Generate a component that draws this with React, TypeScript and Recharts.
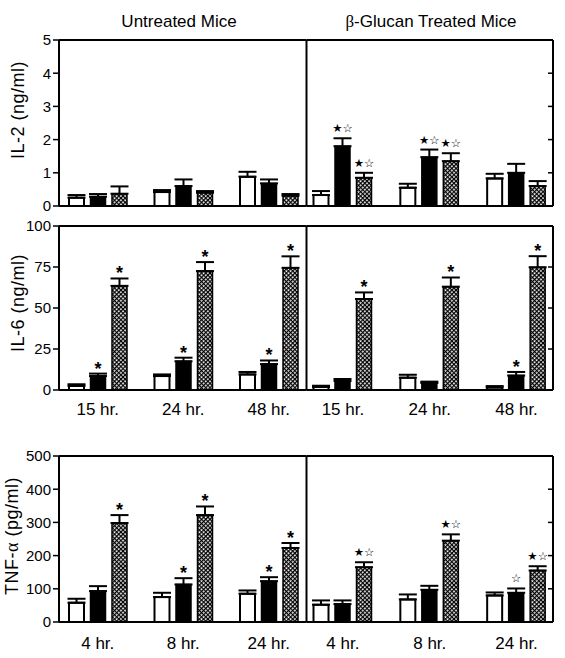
import React from 'react';
import { BarChart, Bar, XAxis, YAxis, ErrorBar, LabelList, ReferenceLine } from 'recharts';

const FONT = "'Liberation Sans', Arial, Helvetica, sans-serif";

const IL_TIMES = ['15 hr.', '24 hr.', '48 hr.'];
const TNF_TIMES = ['4 hr.', '8 hr.', '24 hr.'];

// each inner array: [open bar, solid bar, cross-hatched bar]
const IL2_U_MEAN = [[0.25, 0.28, 0.37], [0.42, 0.6, 0.4], [0.88, 0.68, 0.31]];
const IL2_U_ERR = [[0.08, 0.08, 0.22], [0.06, 0.2, 0.05], [0.15, 0.12, 0.05]];
const IL2_U_MARK = [['', '', ''], ['', '', ''], ['', '', '']];
const IL2_T_MEAN = [[0.33, 1.8, 0.85], [0.55, 1.47, 1.35], [0.83, 1.0, 0.6]];
const IL2_T_ERR = [[0.12, 0.24, 0.15], [0.12, 0.23, 0.24], [0.14, 0.27, 0.15]];
const IL2_T_MARK = [['', '★☆', '★☆'], ['', '★☆', '★☆'], ['', '', '']];

const IL6_U_MEAN = [[2.5, 8.5, 63.5], [8.5, 17.5, 72.5], [9.5, 15.8, 74.5]];
const IL6_U_ERR = [[1, 1.5, 4.5], [1, 2.2, 5.5], [1.5, 2.2, 7]];
const IL6_U_MARK = [['', '*', '*'], ['', '*', '*'], ['', '*', '*']];
const IL6_T_MEAN = [[1.8, 5.5, 55.5], [7.5, 4.3, 63], [1.5, 8.8, 74.8]];
const IL6_T_ERR = [[0.8, 1.2, 4], [1.8, 0.8, 5.6], [0.9, 2.2, 6.8]];
const IL6_T_MARK = [['', '', '*'], ['', '', '*'], ['', '*', '*']];

const TNF_U_MEAN = [[58, 93, 298], [75, 113, 322], [85, 123, 223]];
const TNF_U_ERR = [[12, 15, 24], [13, 19, 26], [10, 12, 15]];
const TNF_U_MARK = [['', '', '*'], ['', '*', '*'], ['', '*', '*']];
const TNF_T_MEAN = [[52, 54, 165], [68, 97, 245], [80, 88, 155]];
const TNF_T_ERR = [[13, 11, 15], [15, 12, 19], [9, 13, 13]];
const TNF_T_MARK = [['', '', '★☆'], ['', '', '★☆'], ['', '☆', '★☆']];

const IL2_TICKS = [0, 1, 2, 3, 4, 5];
const IL6_TICKS = [0, 25, 50, 75, 100];
const TNF_TICKS = [0, 100, 200, 300, 400, 500];

const TITLE_LEFT = 'Untreated Mice';
const TITLE_RIGHT = '-Glucan Treated Mice';

type Row = {
  key: string;
  label: string;
  w: number; b: number; h: number;
  wErr: number[]; bErr: number[]; hErr: number[];
  wMark: string; bMark: string; hMark: string;
};

function buildRows(prefix: string, times: string[], mean: number[][], err: number[][], mark: string[][]): Row[] {
  return times.map((t, i) => ({
    key: prefix + i,
    label: t,
    w: mean[i][0], b: mean[i][1], h: mean[i][2],
    wErr: [0, err[i][0]], bErr: [0, err[i][1]], hErr: [0, err[i][2]],
    wMark: mark[i][0], bMark: mark[i][1], hMark: mark[i][2],
  }));
}

function markerContent(rows: Row[], vKey: 'w' | 'b' | 'h') {
  return (props: any) => {
    const { x, y, width, height, index } = props;
    const row = rows[index];
    if (!row) return null;
    const mark = (row as any)[vKey + 'Mark'] as string;
    if (!mark) return null;
    const v = row[vKey];
    const e = ((row as any)[vKey + 'Err'] as number[])[1];
    const top = Number(y) - (e * Number(height)) / v;
    const cx = Number(x) + Number(width) / 2;
    if (mark === '*') {
      return (
        <text x={cx} y={top + 1} textAnchor="middle" fontSize={18} fontWeight="bold" fontFamily={FONT} fill="#000">
          {mark}
        </text>
      );
    }
    return (
      <text x={cx} y={top - 6} textAnchor="middle" fontSize={11.5} fontWeight="bold" fontFamily="'DejaVu Sans', sans-serif" fill="#000">
        {mark}
      </text>
    );
  };
}

const NoTick = () => <g />;

type HalfProps = {
  side: 'left' | 'right';
  rows: Row[];
  height: number;
  marginTop: number;
  xAxisHeight: number;
  tickMargin: number;
  showXTicks: boolean;
  domain: [number, number];
  ticks: number[];
  pid: string;
  yLabel?: React.ReactNode;
  yLabelX?: number;
  yLabelY?: number;
  title?: React.ReactNode;
  titleX?: number;
};

function Half(p: HalfProps) {
  const isLeft = p.side === 'left';
  const margin = isLeft
    ? { top: p.marginTop, right: 257.5, bottom: 0, left: 24 }
    : { top: p.marginTop, right: 12, bottom: 0, left: 306.5 };
  const labelMap: Record<string, string> = {};
  p.rows.forEach((r) => { labelMap[r.key] = r.label; });
  return (
    <BarChart width={565} height={p.height} data={p.rows} margin={margin} barSize={15} barGap={6.5}>
      <defs>
        <pattern id={p.pid} width={3} height={3} patternUnits="userSpaceOnUse" patternTransform="rotate(45)">
          <rect width={3} height={3} fill="#fff" />
          <rect width={3} height={1.25} fill="#000" />
          <rect width={1.25} height={3} fill="#000" />
        </pattern>
      </defs>
      <XAxis
        dataKey="key"
        tickFormatter={(k: string) => labelMap[k] || ''}
        height={p.xAxisHeight}
        padding={isLeft ? { left: -4, right: -5 } : { left: -7, right: -7 }}
        axisLine={{ stroke: '#000', strokeWidth: 2 }}
        tickLine={false}
        tickSize={0}
        tickMargin={p.tickMargin}
        tick={p.showXTicks ? { fontSize: 17, fill: '#000', fontFamily: FONT } : false}
        interval={0}
      />
      {isLeft ? (
        <YAxis
          yAxisId="m"
          orientation="left"
          width={35}
          domain={p.domain}
          ticks={p.ticks}
          type="number"
          allowDataOverflow
          axisLine={{ stroke: '#000', strokeWidth: 2 }}
          tickLine={{ stroke: '#000', strokeWidth: 1.5 }}
          tickSize={6}
          tickMargin={2}
          tick={{ fontSize: 15, fill: '#000', fontFamily: FONT }}
        />
      ) : (
        <YAxis
          yAxisId="m"
          orientation="right"
          mirror
          width={1}
          domain={p.domain}
          ticks={p.ticks}
          type="number"
          allowDataOverflow
          axisLine={{ stroke: '#000', strokeWidth: 2 }}
          tickLine={{ stroke: '#000', strokeWidth: 1.5 }}
          tickSize={5}
          tick={NoTick}
        />
      )}
      {isLeft && (
        <YAxis
          yAxisId="div"
          orientation="right"
          width={1}
          domain={p.domain}
          type="number"
          axisLine={{ stroke: '#000', strokeWidth: 2 }}
          tickLine={false}
          tick={false}
        />
      )}
      <ReferenceLine yAxisId="m" y={p.domain[1]} stroke="#000" strokeWidth={2} />
      <Bar dataKey="w" yAxisId="m" fill="#fff" stroke="#000" strokeWidth={2} isAnimationActive={false}>
        <ErrorBar dataKey="wErr" width={9} stroke="#000" strokeWidth={2} direction="y" />
        <LabelList dataKey="wMark" content={markerContent(p.rows, 'w')} />
      </Bar>
      <Bar dataKey="b" yAxisId="m" fill="#000" stroke="#000" strokeWidth={1.5} isAnimationActive={false}>
        <ErrorBar dataKey="bErr" width={9} stroke="#000" strokeWidth={2} direction="y" />
        <LabelList dataKey="bMark" content={markerContent(p.rows, 'b')} />
      </Bar>
      <Bar dataKey="h" yAxisId="m" fill={`url(#${p.pid})`} stroke="#000" strokeWidth={1.5} isAnimationActive={false}>
        <ErrorBar dataKey="hErr" width={9} stroke="#000" strokeWidth={2} direction="y" />
        <LabelList dataKey="hMark" content={markerContent(p.rows, 'h')} />
      </Bar>
      {p.yLabel && (
        <text
          transform={`translate(${p.yLabelX},${p.yLabelY}) rotate(-90)`}
          textAnchor="middle"
          fontSize={18}
          letterSpacing={0.5}
          fontFamily={FONT}
          fill="#000"
        >
          {p.yLabel}
        </text>
      )}
      {p.title && (
        <text x={p.titleX} y={27} textAnchor="middle" fontSize={17} fontFamily={FONT} fill="#000">
          {p.title}
        </text>
      )}
    </BarChart>
  );
}

const il2U = buildRows('u', IL_TIMES, IL2_U_MEAN, IL2_U_ERR, IL2_U_MARK);
const il2T = buildRows('t', IL_TIMES, IL2_T_MEAN, IL2_T_ERR, IL2_T_MARK);
const il6U = buildRows('u', IL_TIMES, IL6_U_MEAN, IL6_U_ERR, IL6_U_MARK);
const il6T = buildRows('t', IL_TIMES, IL6_T_MEAN, IL6_T_ERR, IL6_T_MARK);
const tnfU = buildRows('u', TNF_TIMES, TNF_U_MEAN, TNF_U_ERR, TNF_U_MARK);
const tnfT = buildRows('t', TNF_TIMES, TNF_T_MEAN, TNF_T_ERR, TNF_T_MARK);

const abs = (top: number): React.CSSProperties => ({ position: 'absolute', left: 0, top, width: 565 });

export default function App() {
  const serif = "'Liberation Serif', 'Times New Roman', serif";
  return (
    <div style={{ position: 'absolute', left: 0, top: 0, width: 565, height: 658, background: '#fff', overflow: 'hidden' }}>
      {/* IL-2 row */}
      <div style={abs(0)}>
        <Half side="left" rows={il2U} height={215} marginTop={40} xAxisHeight={9} tickMargin={0} showXTicks={false}
          domain={[0, 5]} ticks={IL2_TICKS} pid="hatch1l"
          yLabel="IL-2 (ng/ml)" yLabelX={24} yLabelY={110}
          title={TITLE_LEFT} titleX={179} />
      </div>
      <div style={abs(0)}>
        <Half side="right" rows={il2T} height={215} marginTop={40} xAxisHeight={9} tickMargin={0} showXTicks={false}
          domain={[0, 5]} ticks={IL2_TICKS} pid="hatch1r"
          title={<><tspan fontFamily={serif}>β</tspan>{TITLE_RIGHT}</>} titleX={431} />
      </div>
      {/* IL-6 row */}
      <div style={abs(215)}>
        <Half side="left" rows={il6U} height={205} marginTop={11} xAxisHeight={30} tickMargin={13} showXTicks
          domain={[0, 100]} ticks={IL6_TICKS} pid="hatch2l"
          yLabel="IL-6 (ng/ml)" yLabelX={24} yLabelY={88} />
      </div>
      <div style={abs(215)}>
        <Half side="right" rows={il6T} height={205} marginTop={11} xAxisHeight={30} tickMargin={13} showXTicks
          domain={[0, 100]} ticks={IL6_TICKS} pid="hatch2r" />
      </div>
      {/* TNF row */}
      <div style={abs(440)}>
        <Half side="left" rows={tnfU} height={218} marginTop={16} xAxisHeight={36} tickMargin={15} showXTicks
          domain={[0, 500]} ticks={TNF_TICKS} pid="hatch3l"
          yLabel={<>TNF-<tspan fontFamily={serif}>α</tspan> (pg/ml)</>} yLabelX={18} yLabelY={96} />
      </div>
      <div style={abs(440)}>
        <Half side="right" rows={tnfT} height={218} marginTop={16} xAxisHeight={36} tickMargin={15} showXTicks
          domain={[0, 500]} ticks={TNF_TICKS} pid="hatch3r" />
      </div>
    </div>
  );
}
